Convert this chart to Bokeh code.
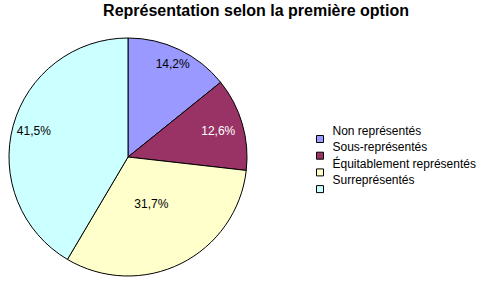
import numpy as np
from bokeh.plotting import figure
from bokeh.models import Range1d, ColumnDataSource
from bokeh.core.properties import value
from bokeh.embed import file_html
from bokeh.resources import INLINE

title = "Représentation selon la première option"
categories = ["Non représentés", "Sous-représentés", "Équitablement représentés", "Surreprésentés"]
shares = [14.2, 12.6, 31.7, 41.5]
labels = ["14,2%", "12,6%", "31,7%", "41,5%"]
colors = ["#9999FF", "#993366", "#FFFFCC", "#CCFFFF"]
label_colors = ["black", "white", "black", "black"]

W, H = 497, 288
p = figure(width=W, height=H, output_backend="svg", toolbar_location=None,
           x_range=Range1d(0, W), y_range=Range1d(0, H), min_border=0)
p.axis.visible = False
p.grid.visible = False
p.outline_line_color = None
p.background_fill_color = "white"
p.border_fill_color = "white"

cx, cy, r = 127.5, H - 156.5, 119
vals = np.array(shares)
frac = vals / vals.sum()
cum = np.concatenate([[0], np.cumsum(frac)])
start = np.pi / 2 - cum[:-1] * 2 * np.pi
end = np.pi / 2 - cum[1:] * 2 * np.pi
src = ColumnDataSource(dict(start=start, end=end, color=colors))
p.wedge(x=cx, y=cy, radius=r, start_angle="start", end_angle="end", direction="clock",
        fill_color="color", line_color="black", line_width=1, source=src)

mid = (start + end) / 2
lab_r = np.array([0.87, 0.79, 0.44, 0.82]) * r
p.text(x=cx + lab_r * np.cos(mid), y=cy + lab_r * np.sin(mid), text=labels,
       text_color=label_colors, text_font=value("Liberation Sans"), text_font_size="12px",
       text_align="center", text_baseline="middle")

p.text(x=[255.5], y=[H - 10], text=[title], text_font=value("Liberation Sans"),
       text_font_style="bold", text_font_size="16px", text_align="center", text_baseline="middle")

n = len(categories)
idx = np.arange(n)
box_y = H - (138.5 + idx * 16.7)
lab_y = H - (130 + idx * 16.5)
p.rect(x=[319.5] * n, y=box_y, width=7, height=7, fill_color=colors, line_color="black", line_width=1)
p.text(x=[332] * n, y=lab_y, text=categories, text_font=value("Liberation Sans"),
       text_font_size="12px", text_align="left", text_baseline="middle")

open("out.html", "w").write(file_html(p, INLINE))
